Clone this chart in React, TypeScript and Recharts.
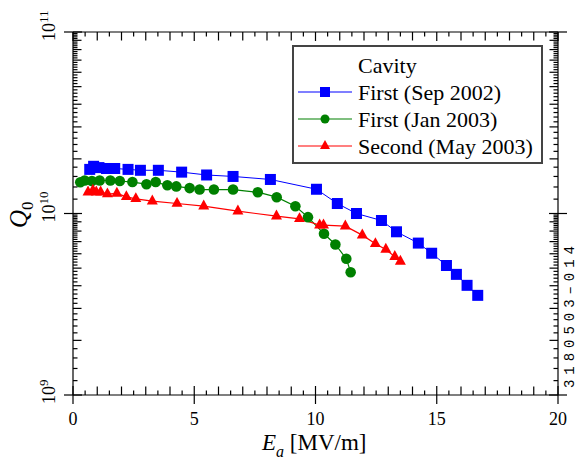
import { LineChart, Line, XAxis, YAxis } from "recharts";

// ── Data ──
// First cavity, Sep 2002 (blue squares)
const SEP02_E = [0.69, 0.85, 1.07, 1.38, 1.72, 2.27, 2.78, 3.52, 4.48, 5.51, 6.6, 8.14, 10.04, 10.9, 11.69, 12.72, 13.34, 14.24, 14.79, 15.4, 15.81, 16.25, 16.69];
const SEP02_Q = [1.75e10, 1.82e10, 1.79e10, 1.77e10, 1.77e10, 1.75e10, 1.73e10, 1.73e10, 1.69e10, 1.63e10, 1.6e10, 1.54e10, 1.36e10, 1.135e10, 1.0e10, 9.15e9, 7.93e9, 6.87e9, 6.04e9, 5.17e9, 4.62e9, 4.02e9, 3.54e9];

// First cavity, Jan 2003 (green circles)
const JAN03_E = [0.3, 0.48, 0.78, 1.1, 1.54, 1.93, 2.45, 3.03, 3.41, 3.89, 4.26, 4.81, 5.22, 5.81, 6.6, 7.62, 8.4, 9.17, 9.69, 10.35, 10.82, 11.27, 11.45];
const JAN03_Q = [1.486e10, 1.52e10, 1.51e10, 1.52e10, 1.52e10, 1.51e10, 1.49e10, 1.45e10, 1.49e10, 1.43e10, 1.41e10, 1.38e10, 1.355e10, 1.355e10, 1.355e10, 1.31e10, 1.23e10, 1.097e10, 9.55e9, 7.73e9, 6.75e9, 5.63e9, 4.75e9];

// Second cavity, May 2003 (red triangles)
const MAY03_E = [0.62, 0.82, 0.96, 1.14, 1.42, 1.81, 2.2, 2.59, 3.27, 4.29, 5.39, 6.8, 8.39, 9.34, 10.17, 10.33, 11.23, 11.93, 12.47, 12.9, 13.27, 13.5];
const MAY03_Q = [1.31e10, 1.34e10, 1.31e10, 1.31e10, 1.28e10, 1.29e10, 1.236e10, 1.205e10, 1.17e10, 1.135e10, 1.097e10, 1.03e10, 9.67e9, 9.35e9, 8.63e9, 8.63e9, 8.52e9, 7.6e9, 6.81e9, 6.34e9, 5.78e9, 5.45e9];

const X_LABELS = [0, 5, 10, 15, 20];
const Y_DECADES = [9, 10, 11];
const LEGEND_TITLE = "Cavity";
const LEGEND_NAMES = ["First (Sep 2002)", "First (Jan 2003)", "Second (May 2003)"];
const FIG_CODE = "3180503\u2013014";

// ── Axis tick positions ──
const X_TICKS: number[] = [];
for (let i = 0; i <= 40; i++) X_TICKS.push(i / 2);

const Y_TICKS: number[] = [];
for (const e of [9, 10]) {
  for (let k = 5; k < 50; k++) Y_TICKS.push((k / 5) * Math.pow(10, e));
}
Y_TICKS.push(1e11);

const zip = (xs: number[], ys: number[]) => xs.map((x, i) => ({ x, y: ys[i] }));
const sepData = zip(SEP02_E, SEP02_Q);
const janData = zip(JAN03_E, JAN03_Q);
const mayData = zip(MAY03_E, MAY03_Q);

const BLUE = "#0000ff";
const GREEN = "#008000";
const RED = "#ff0000";
const SERIF = "'Liberation Serif', 'Times New Roman', serif";

/* ── tick helpers ── */

function xTickKind(v: number) {
  if (X_LABELS.includes(v)) return "major";
  if (Number.isInteger(v)) return "mid";
  return "minor";
}

function yTickKind(v: number) {
  const e = Math.floor(Math.log10(v) + 1e-9);
  const m = v / Math.pow(10, e);
  if (Math.abs(m - 1) < 1e-6) return "major";
  if (Math.abs(m - Math.round(m)) < 1e-6) return "mid";
  return "minor";
}

const LEN = { major: 9, mid: 8.5, minor: 4.5 } as const;

function BottomTick({ x, y, payload }: any) {
  const kind = xTickKind(payload.value);
  return (
    <g>
      <line x1={x} x2={x} y1={y - LEN[kind]} y2={kind === "major" ? y + 9 : y} stroke="#000" strokeWidth={1.2} />
      {kind === "major" && (
        <text x={x} y={y + 30} textAnchor="middle" fontFamily={SERIF} fontSize={18} fill="#000">
          {payload.value}
        </text>
      )}
    </g>
  );
}

function TopTick({ x, y, payload }: any) {
  const kind = xTickKind(payload.value);
  return <line x1={x} x2={x} y1={y} y2={y + LEN[kind]} stroke="#000" strokeWidth={1.2} />;
}

function LeftTick({ x, y, payload }: any) {
  const v = payload.value;
  const kind = yTickKind(v);
  const e = Math.round(Math.log10(v));
  return (
    <g>
      <line x1={kind === "major" ? x - 9 : x} x2={x + LEN[kind]} y1={y} y2={y} stroke="#000" strokeWidth={1.2} />
      {kind === "major" && Y_DECADES.includes(e) && (
        <g transform={`translate(55, ${y}) rotate(-90)`}>
          <text x={-9} y={0} fontFamily={SERIF} fontSize={18} fill="#000">
            10
            <tspan dy={-7} fontSize={13}>
              {e}
            </tspan>
          </text>
        </g>
      )}
    </g>
  );
}

function RightTick({ x, y, payload }: any) {
  const kind = yTickKind(payload.value);
  return <line x1={x - LEN[kind]} x2={kind === "major" ? x + 9 : x} y1={y} y2={y} stroke="#000" strokeWidth={1.2} />;
}

/* ── markers ── */

const square = (cx: number, cy: number, s: number, key?: any) => (
  <rect key={key} x={cx - s / 2} y={cy - s / 2} width={s} height={s} fill={BLUE} />
);
const circle = (cx: number, cy: number, r: number, key?: any) => (
  <circle key={key} cx={cx} cy={cy} r={r} fill={GREEN} />
);
const triangle = (cx: number, cy: number, w: number, key?: any) => {
  const h = w * 0.9;
  return (
    <path
      key={key}
      d={`M${cx},${cy - (h * 2) / 3} L${cx + w / 2},${cy + h / 3} L${cx - w / 2},${cy + h / 3} Z`}
      fill={RED}
    />
  );
};

const SquareDot = (p: any) => square(p.cx, p.cy, 11, `s${p.index}`);
const CircleDot = (p: any) => circle(p.cx, p.cy, 5.3, `c${p.index}`);
const TriDot = (p: any) => triangle(p.cx, p.cy, 11, `t${p.index}`);

/* ── legend and titles ── */

function LegendBox() {
  const rows = [
    { y: 92, color: BLUE, mark: square(325, 92, 10) },
    { y: 119, color: GREEN, mark: circle(325, 119, 4.5) },
    { y: 146, color: RED, mark: triangle(325, 146, 10) },
  ];
  return (
    <g>
      <rect x={293} y={46} width={249} height={117} fill="#fff" stroke="#444" strokeWidth={2} />
      <text x={358} y={73} fontFamily={SERIF} fontSize={22} fill="#000">
        {LEGEND_TITLE}
      </text>
      {rows.map((r, i) => (
        <g key={i}>
          <line x1={298} x2={352} y1={r.y} y2={r.y} stroke={r.color} strokeWidth={1.2} />
          {r.mark}
          <text x={358} y={r.y + 7.5} fontFamily={SERIF} fontSize={22} fill="#000">
            {LEGEND_NAMES[i]}
          </text>
        </g>
      ))}
    </g>
  );
}

function Titles() {
  return (
    <g>
      <text x={262} y={450} fontFamily={SERIF} fontSize={23} fill="#000">
        <tspan fontStyle="italic">E</tspan>
        <tspan fontStyle="italic" fontSize={16} dy={7}>
          a
        </tspan>
        <tspan dy={-7}> [MV/m]</tspan>
      </text>
      <g transform="translate(27, 228) rotate(-90)">
        <text x={0} y={0} fontFamily={SERIF} fontSize={25} fill="#000">
          <tspan fontStyle="italic">Q</tspan>
          <tspan fontSize={17} dy={6}>
            0
          </tspan>
        </text>
      </g>
      <g transform="translate(573.5, 388) rotate(-90)">
        <text x={0} y={0} fontFamily="'Liberation Mono', monospace" fontSize={14} fill="#000" textLength={142} lengthAdjust="spacing">
          {FIG_CODE}
        </text>
      </g>
    </g>
  );
}

export default function App() {
  return (
    <div style={{ position: "absolute", left: 0, top: 0, background: "#fff" }}>
      <LineChart width={577} height={460} margin={{ top: 0, right: 0, bottom: 0, left: 0 }}>
        <XAxis
          xAxisId="bottom"
          dataKey="x"
          type="number"
          domain={[0, 20]}
          ticks={X_TICKS}
          interval={0}
          height={65}
          tickSize={0}
          tickMargin={0}
          tick={<BottomTick />}
          axisLine={{ stroke: "#000", strokeWidth: 1.2 }}
          tickLine={false}
          allowDataOverflow
        />
        <XAxis
          xAxisId="top"
          orientation="top"
          dataKey="x"
          type="number"
          domain={[0, 20]}
          ticks={X_TICKS}
          interval={0}
          height={32}
          tickSize={0}
          tickMargin={0}
          tick={<TopTick />}
          axisLine={{ stroke: "#000", strokeWidth: 1.2 }}
          tickLine={false}
          allowDataOverflow
        />
        <YAxis
          yAxisId="left"
          type="number"
          scale="log"
          domain={[1e9, 1e11]}
          ticks={Y_TICKS}
          interval={0}
          width={73}
          tickSize={0}
          tickMargin={0}
          tick={<LeftTick />}
          axisLine={{ stroke: "#000", strokeWidth: 1.2 }}
          tickLine={false}
          allowDataOverflow
        />
        <YAxis
          yAxisId="right"
          orientation="right"
          type="number"
          scale="log"
          domain={[1e9, 1e11]}
          ticks={Y_TICKS}
          interval={0}
          width={19}
          tickSize={0}
          tickMargin={0}
          tick={<RightTick />}
          axisLine={{ stroke: "#000", strokeWidth: 1.2 }}
          tickLine={false}
          allowDataOverflow
        />
        <Line
          xAxisId="bottom"
          yAxisId="left"
          data={sepData}
          dataKey="y"
          stroke={BLUE}
          strokeWidth={1}
          dot={SquareDot}
          activeDot={false}
          isAnimationActive={false}
        />
        <Line
          xAxisId="bottom"
          yAxisId="left"
          data={janData}
          dataKey="y"
          stroke={GREEN}
          strokeWidth={1.2}
          dot={CircleDot}
          activeDot={false}
          isAnimationActive={false}
        />
        <Line
          xAxisId="bottom"
          yAxisId="left"
          data={mayData}
          dataKey="y"
          stroke={RED}
          strokeWidth={1.2}
          dot={TriDot}
          activeDot={false}
          isAnimationActive={false}
        />
        <LegendBox />
        <Titles />
      </LineChart>
    </div>
  );
}
